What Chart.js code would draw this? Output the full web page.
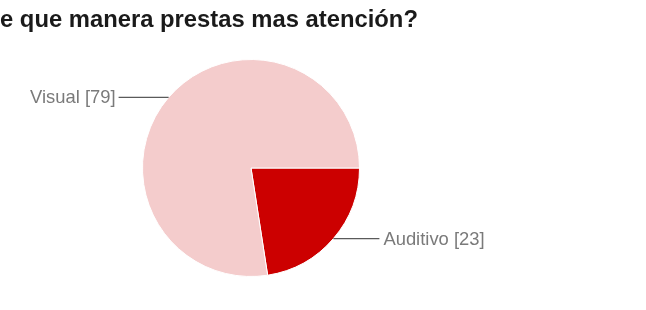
<!DOCTYPE html>
<html>
<head>
<meta charset="utf-8">
<script src="https://cdn.jsdelivr.net/npm/chart.js@4"></script>
<style>
  html, body { margin: 0; padding: 0; background: #fff; }
  #wrap { width: 646px; height: 310px; }
</style>
</head>
<body>
<div id="wrap"><canvas id="pie" width="646" height="310"></canvas></div>
<script>
const titleText = "¿De que manera prestas mas atención?";
const labels = ["Auditivo", "Visual"];
const values = [23, 79];
const colors = ["#cc0000", "#f4cccc"];

// title is cut off on the left in the reference, so we shift it by "¿D"
const titlePlugin = {
    id: "cutTitle",
    afterDraw(chart) {
        const ctx = chart.ctx;
        ctx.save();
        ctx.font = "bold 23.8px 'Liberation Sans', Arial, sans-serif";
        ctx.fillStyle = "#1a1a1a";
        ctx.textBaseline = "alphabetic";
        const shift = ctx.measureText("¿D").width;
        ctx.fillText(titleText, -shift, 27);
        ctx.restore();
    }
};

const sliceLabels = {
    id: "sliceLabels",
    afterDatasetsDraw(chart) {
        const ctx = chart.ctx;
        const arcs = chart.getDatasetMeta(0).data;
        ctx.save();
        ctx.font = "18.4px 'Liberation Sans', Arial, sans-serif";
        ctx.textBaseline = "middle";
        arcs.forEach((arc, i) => {
            const mid = (arc.startAngle + arc.endAngle) / 2;
            const r = arc.outerRadius;
            const px = arc.x + Math.cos(mid) * r;
            const py = arc.y + Math.sin(mid) * r;
            const left = Math.cos(mid) < 0;
            const ex = left ? px - 50 : px + 46;
            ctx.strokeStyle = "#5a5a5a";
            ctx.lineWidth = 1.2;
            ctx.beginPath();
            ctx.moveTo(px, py);
            ctx.lineTo(ex, py);
            ctx.stroke();
            ctx.fillStyle = "#7a7a7a";
            ctx.textAlign = left ? "right" : "left";
            ctx.fillText(labels[i] + " [" + values[i] + "]", left ? ex - 3 : ex + 4, py + 1);
        });
        ctx.restore();
    }
};

new Chart(document.getElementById("pie").getContext("2d"), {
    type: "pie",
    data: {
        labels: labels,
        datasets: [{
            data: values,
            backgroundColor: colors,
            borderColor: "#ffffff",
            borderWidth: 1
        }]
    },
    options: {
        responsive: false,
        animation: false,
        rotation: 90,
        layout: { padding: { left: 142, right: 286, top: 59, bottom: 33 } },
        plugins: {
            legend: { display: false },
            title: { display: false },
            tooltip: { enabled: false }
        }
    },
    plugins: [titlePlugin, sliceLabels]
});
</script>
</body>
</html>
